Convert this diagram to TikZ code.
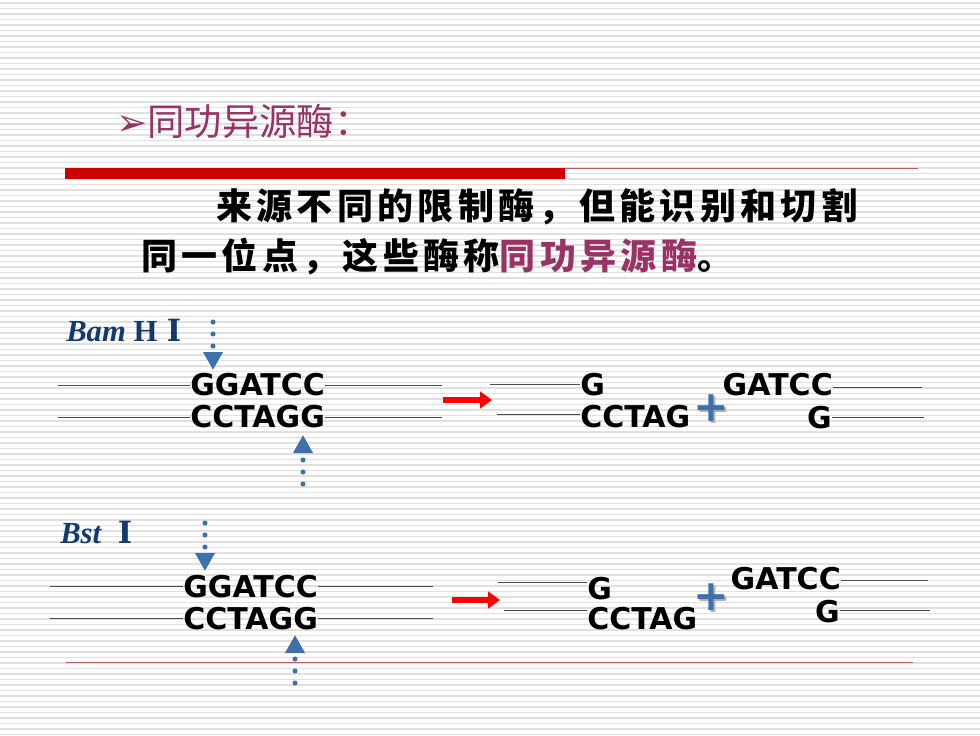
\documentclass[tikz,border=0pt]{standalone}
\usepackage{fontspec}
\usepackage{tikz}
\usetikzlibrary{arrows.meta,calc}
\newfontfamily\cjk{Noto Sans CJK SC}
\newfontfamily\cjkwide[LetterSpace=12]{Noto Sans CJK SC}
\newfontfamily\dnafont{DejaVu Sans}
\newfontfamily\symfont{DejaVu Sans}
\newfontfamily\enzfont{Liberation Serif}
\newfontfamily\numfont{DejaVu Serif}
\definecolor{titlepurple}{RGB}{153,51,102}
\definecolor{enzblue}{RGB}{18,58,108}
\definecolor{cutblue}{RGB}{62,112,170}
\definecolor{barred}{RGB}{204,0,0}
\definecolor{rulered}{RGB}{190,90,90}
\definecolor{stripe}{RGB}{224,224,224}

\begin{document}
\begin{tikzpicture}[x=0.75pt,y=-0.75pt,
  stripeline/.style={draw=stripe,line width=0.9pt},
  dna/.style={font=\dnafont\bfseries\fontsize{22.5}{26}\selectfont,inner sep=0pt},
  strand/.style={draw=black!70,line width=0.75pt},
  enz/.style={font=\enzfont\bfseries\fontsize{23}{26}\selectfont,text=enzblue,anchor=west,inner sep=0pt},
  cut/.style={draw=cutblue,line width=3.8pt,line cap=round,dash pattern=on 0pt off 9pt,
    -{Triangle[length=13.5pt,width=14pt,fill=cutblue]}},
  redarrow/.style={draw=red,line width=4.5pt,-{Triangle[length=9pt,width=12.5pt]}},
  plusmark/.style={font=\dnafont\bfseries\fontsize{32}{32}\selectfont,text=cutblue,inner sep=0pt},
  body/.style={font=\cjkwide\bfseries\fontsize{27}{30}\selectfont,anchor=west,inner sep=0pt}]
  \useasboundingbox (0,0) rectangle (980,735);
  \fill[white] (0,0) rectangle (980,735);
  \foreach \y in {3,8.5,...,735}
    \draw[stripeline] (0,\y) -- (980,\y);

  % title and definition
  \node[anchor=west,inner sep=0pt,text=titlepurple,font=\fontsize{28}{30}\selectfont] (title) at (116,121)
    {{\symfont\fontsize{28}{30}\selectfont ➢}{\cjk 同功异源酶：}};
  \draw[barred,line width=8.25pt] (65,173) -- (565,173);
  \draw[rulered,line width=0.75pt] (565,168) -- (918,168);
  \node[body] (defA) at (216,207) {来源不同的限制酶，但能识别和切割};
  \node[body] (defB) at (141,257) {同一位点，这些酶称\textcolor{titlepurple}{同功异源酶}。};

  % Bam HI
  \node[enz] (bamLabel) at (66,330) {\textit{Bam} H\hspace{7pt}{\numfont Ⅰ}};
  \node[dna,anchor=west] (bamTop) at (190,385) {GGATCC};
  \node[dna,anchor=west] (bamBot) at (190,417) {CCTAGG};
  \coordinate (bamL1) at (58,385);
  \coordinate (bamL2) at (58,417);
  \coordinate (bamR1) at (442,385);
  \coordinate (bamR2) at (442,417);
  \draw[strand] (bamL1) -- (bamTop);
  \draw[strand] (bamL2) -- (bamBot);
  \draw[strand] (bamTop) -- (bamR1);
  \draw[strand] (bamBot) -- (bamR2);
  \coordinate (bamCutA) at (213,322);
  \coordinate (bamCutB) at (303,484);
  \draw[cut] (bamCutA) -- (213,370);
  \draw[cut] (bamCutB) -- (303,435);
  \coordinate (bamArrowS) at (443,400);
  \coordinate (bamArrowE) at (492,400);
  \draw[redarrow] (bamArrowS) -- (bamArrowE);
  \node[dna,anchor=west] (bamG) at (580,385) {G};
  \node[dna,anchor=west] (bamCctag) at (580,417) {CCTAG};
  \coordinate (bamP1) at (490,384);
  \coordinate (bamP2) at (497,414);
  \draw[strand] (bamP1) -- (bamP1 -| bamG.west);
  \draw[strand] (bamP2) -- (bamP2 -| bamCctag.west);
  \node[plusmark,text=black!30] (bamPlusShadow) at (713,410) {+};
  \node[plusmark] (bamPlus) at (711,408) {+};
  \node[dna,anchor=east] (bamGatcc) at (833,385) {GATCC};
  \node[dna,anchor=east] (bamG2) at (832,418) {G};
  \coordinate (bamQ1) at (922,387);
  \coordinate (bamQ2) at (924,417);
  \draw[strand] (bamQ1 -| bamGatcc.east) -- (bamQ1);
  \draw[strand] (bamQ2 -| bamG2.east) -- (bamQ2);

  % Bst I
  \node[enz] (bstLabel) at (60,532) {\textit{Bst}\hspace{12pt}{\numfont Ⅰ}};
  \node[dna,anchor=west] (bstTop) at (183,587) {GGATCC};
  \node[dna,anchor=west] (bstBot) at (183,619) {CCTAGG};
  \coordinate (bstL1) at (50,586);
  \coordinate (bstL2) at (50,618);
  \coordinate (bstR1) at (433,586);
  \coordinate (bstR2) at (433,618);
  \draw[strand] (bstL1) -- (bstL1 -| bstTop.west);
  \draw[strand] (bstL2) -- (bstL2 -| bstBot.west);
  \draw[strand] (bstR1 -| bstTop.east) -- (bstR1);
  \draw[strand] (bstR2 -| bstBot.east) -- (bstR2);
  \coordinate (bstCutA) at (205,523);
  \coordinate (bstCutB) at (295,683);
  \draw[cut] (bstCutA) -- (205,571);
  \draw[cut] (bstCutB) -- (295,635);
  \coordinate (bstArrowS) at (452,600);
  \coordinate (bstArrowE) at (500,600);
  \draw[redarrow] (bstArrowS) -- (bstArrowE);
  \node[dna,anchor=west] (bstG) at (587,589) {G};
  \node[dna,anchor=west] (bstCctag) at (587,619) {CCTAG};
  \coordinate (bstP1) at (498,582);
  \coordinate (bstP2) at (504,610);
  \draw[strand] (bstP1) -- (bstP1 -| bstG.west);
  \draw[strand] (bstP2) -- (bstP2 -| bstCctag.west);
  \node[plusmark,text=black!30] (bstPlusShadow) at (713,599) {+};
  \node[plusmark] (bstPlus) at (711,597) {+};
  \node[dna,anchor=east] (bstGatcc) at (841,579) {GATCC};
  \node[dna,anchor=east] (bstG2) at (840,612) {G};
  \coordinate (bstQ1) at (928,580);
  \coordinate (bstQ2) at (930,610);
  \draw[strand] (bstQ1 -| bstGatcc.east) -- (bstQ1);
  \draw[strand] (bstQ2 -| bstG2.east) -- (bstQ2);
  \draw[rulered,line width=0.75pt] (66,662) -- (913,662);
\end{tikzpicture}
\end{document}
